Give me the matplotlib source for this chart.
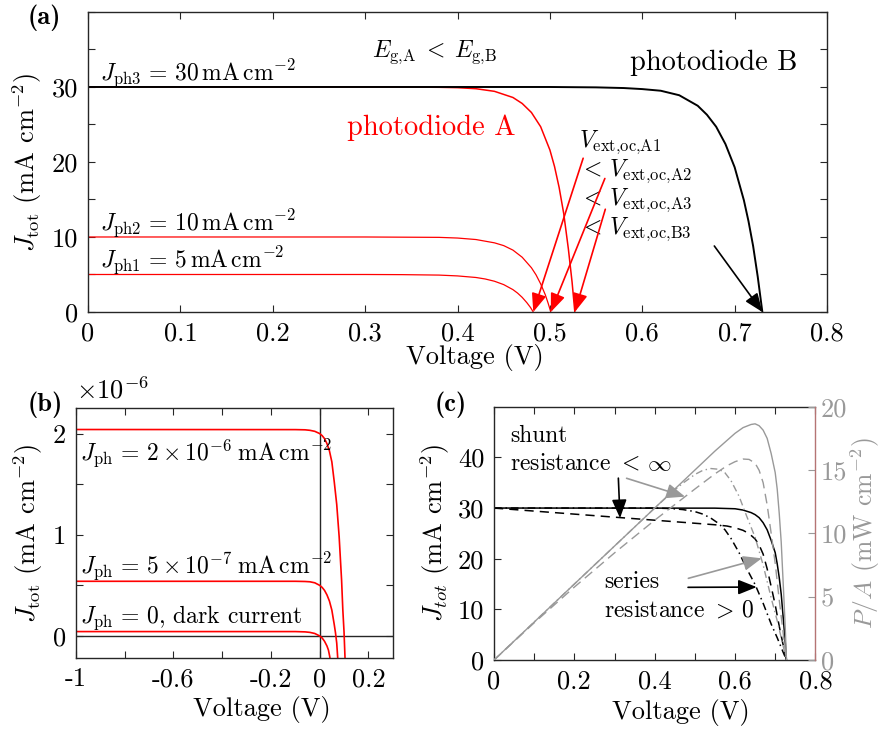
import matplotlib
matplotlib.use("Agg")
import matplotlib.pyplot as plt

plt.rcParams["font.family"] = "serif"
plt.rcParams["font.serif"] = ["cmr10"]
plt.rcParams["mathtext.fontset"] = "cm"
plt.rcParams["axes.unicode_minus"] = False
plt.rcParams["axes.formatter.use_mathtext"] = True

SPINE = "#262626"
RED = "#ff0000"
GRAY = "#999999"

# ---- (a) J-V curves of photodiode A (three photocurrents) and B ----
v_a1 = [0, 0.30, 0.34, 0.38, 0.40, 0.42, 0.43, 0.44, 0.45, 0.46, 0.465, 0.47, 0.475, 0.479, 0.482]
j_a1 = [5, 5, 4.98, 4.92, 4.81, 4.6, 4.4, 4.1, 3.65, 2.98, 2.52, 1.95, 1.25, 0.6, 0]
v_a2 = [0, 0.30, 0.38, 0.40, 0.42, 0.44, 0.45, 0.46, 0.47, 0.48, 0.485, 0.49, 0.495, 0.498, 0.501]
j_a2 = [10, 10, 9.95, 9.86, 9.66, 9.22, 8.85, 8.25, 7.3, 5.9, 4.95, 3.75, 2.3, 1.2, 0]
v_a3 = [0, 0.33, 0.38, 0.40, 0.42, 0.44, 0.46, 0.47, 0.48, 0.49, 0.50, 0.505, 0.51, 0.515,
        0.52, 0.524, 0.527]
j_a3 = [30, 30, 29.96, 29.91, 29.77, 29.42, 28.6, 27.8, 26.6, 24.7, 21.6, 19.4, 16.6, 13.1,
        8.4, 4.0, 0]
v_b3 = [0, 0.50, 0.55, 0.58, 0.60, 0.62, 0.64, 0.66, 0.67, 0.68, 0.69, 0.70, 0.71, 0.715,
        0.72, 0.725, 0.73]
j_b3 = [30, 30, 29.95, 29.86, 29.72, 29.5, 28.9, 27.5, 26.3, 24.7, 22.4, 19.3, 14.9, 12.1,
        8.8, 4.7, 0]
voc_a = [0.482, 0.501, 0.527]
voc_b = 0.73

# ---- (b) low-light curves, units of 1e-6 mA cm^-2 ----
v_hi = [-1, -0.1, -0.06, -0.04, -0.02, 0, 0.01, 0.02, 0.03, 0.04, 0.05, 0.06, 0.07, 0.08,
        0.09, 0.095, 0.1, 0.104]
j_hi = [2.04, 2.039, 2.037, 2.032, 2.022, 2.0, 1.98, 1.95, 1.9, 1.83, 1.72, 1.52, 1.30,
        0.98, 0.55, 0.26, 0.04, -0.215]
v_lo = [-1, -0.1, -0.06, -0.04, -0.02, 0, 0.01, 0.02, 0.03, 0.04, 0.05, 0.06, 0.065, 0.07,
        0.074]
j_lo = [0.54, 0.54, 0.538, 0.535, 0.525, 0.5, 0.48, 0.45, 0.405, 0.345, 0.255, 0.11, 0.03,
        -0.07, -0.215]
v_dark = [-1, -0.1, -0.06, -0.04, -0.02, 0, 0.01, 0.02, 0.03, 0.036, 0.041, 0.043]
j_dark = [0.043, 0.043, 0.04, 0.035, 0.024, 0, -0.02, -0.053, -0.1, -0.14, -0.2, -0.23]

# ---- (c) ideal / shunt / series resistance: current and power density ----
v_ideal = [0, 0.55, 0.60, 0.62, 0.64, 0.65, 0.66, 0.67, 0.68, 0.69, 0.70, 0.705, 0.71,
           0.715, 0.72, 0.725, 0.728]
j_ideal = [30, 29.98, 29.86, 29.6, 29.1, 28.7, 28.1, 27.1, 25.7, 23.6, 21.2, 19.0, 16.3,
           13.0, 8.3, 3.6, 0]
vp_ideal = [0, 0.55, 0.60, 0.62, 0.64, 0.65, 0.66, 0.67, 0.68, 0.69, 0.70, 0.705, 0.71,
            0.715, 0.72, 0.725, 0.728]
p_ideal = [0, 16.5, 17.9, 18.35, 18.6, 18.65, 18.5, 18.15, 17.5, 16.3, 14.8, 13.5, 11.6,
           9.3, 6.0, 2.6, 0]

v_shunt = [0, 0.1, 0.2, 0.3, 0.4, 0.5, 0.55, 0.58, 0.60, 0.62, 0.635, 0.65, 0.66, 0.67,
           0.68, 0.69, 0.70, 0.71, 0.72, 0.728]
j_shunt = [30, 29.4, 28.8, 28.2, 27.6, 27.0, 26.7, 26.45, 26.1, 25.6, 24.95, 23.9, 22.7,
           20.9, 18.0, 14.5, 10.9, 6.7, 2.9, 0]
vp_shunt = [0, 0.1, 0.2, 0.3, 0.4, 0.5, 0.55, 0.58, 0.60, 0.62, 0.635, 0.65, 0.66, 0.67,
            0.68, 0.69, 0.70, 0.71, 0.72, 0.728]
p_shunt = [0, 2.94, 5.76, 8.46, 11.04, 13.5, 14.7, 15.34, 15.66, 15.87, 15.84, 15.54, 14.98,
           14.0, 12.24, 10.0, 7.63, 4.76, 2.09, 0]

v_series = [0, 0.40, 0.44, 0.47, 0.50, 0.52, 0.54, 0.56, 0.575, 0.59, 0.61, 0.63, 0.65,
            0.67, 0.69, 0.705, 0.72, 0.728]
j_series = [30, 30, 29.9, 29.7, 29.3, 28.8, 28.0, 26.9, 25.7, 24.0, 21.2, 17.9, 14.9, 11.2,
            7.1, 4.4, 1.5, 0]
vp_series = [0, 0.40, 0.44, 0.47, 0.50, 0.52, 0.54, 0.56, 0.575, 0.59, 0.61, 0.63, 0.65,
             0.67, 0.69, 0.705, 0.72, 0.728]
p_series = [0, 12.0, 13.16, 13.96, 14.65, 14.98, 15.12, 15.06, 14.78, 14.16, 12.93, 11.28,
            9.69, 7.5, 4.9, 3.1, 1.08, 0]

FS = 19


def style_axes(ax):
    for s in ax.spines.values():
        s.set_color(SPINE)
        s.set_linewidth(1.0)
    ax.tick_params(which="both", direction="in", length=5, width=0.8,
                   top=True, right=True, labelsize=FS, color=SPINE, pad=7)


def arrow(ax, tip, tail, color, lw=1.2):
    ax.annotate("", xy=tip, xytext=tail,
                arrowprops=dict(arrowstyle="-|>,head_length=0.75,head_width=0.3",
                                color=color, lw=lw, shrinkA=0, shrinkB=0,
                                mutation_scale=15))


fig = plt.figure(figsize=(8.83, 7.31), dpi=100)

# (a)
ax = fig.add_axes([0.0997, 0.5732, 0.8369, 0.4104])
style_axes(ax)
ax.plot(v_a1, j_a1, color=RED, lw=0.9)
ax.plot(v_a2, j_a2, color=RED, lw=0.9)
ax.plot(v_a3, j_a3, color=RED, lw=1.1)
ax.plot(v_b3, j_b3, color="black", lw=1.4)
ax.set_xlim(0, 0.8)
ax.set_ylim(0, 40)
ax.set_xticks([0, 0.1, 0.2, 0.3, 0.4, 0.5, 0.6, 0.7, 0.8])
ax.set_xticklabels(["0", "0.1", "0.2", "0.3", "0.4", "0.5", "0.6", "0.7", "0.8"])
ax.set_yticks([0, 5, 10, 15, 20, 25, 30, 35, 40])
ax.set_yticklabels(["0", "", "10", "", "20", "", "30", "", ""])
ax.set_xlabel("Voltage (V)", fontsize=FS)
ax.xaxis.set_label_coords(0.524, -0.108)
ax.set_ylabel(r"$J_{\rm tot}$ (mA cm$^{-2}$)", fontsize=FS, labelpad=6)
tfs = 17
ax.text(0.013, 30.9, r"$J_{\rm ph3}\,=\,30\,{\rm mA\,cm^{-2}}$", fontsize=tfs, va="baseline")
ax.text(0.013, 10.9, r"$J_{\rm ph2}\,=\,10\,{\rm mA\,cm^{-2}}$", fontsize=tfs, va="baseline")
ax.text(0.013, 6.05, r"$J_{\rm ph1}\,=\,5\,{\rm mA\,cm^{-2}}$", fontsize=tfs, va="baseline")
ax.text(0.307, 34.0, r"$E_{\rm g{,}A}\;<\;E_{\rm g{,}B}$", fontsize=tfs, va="baseline")
ax.text(0.587, 32.3, "photodiode B", fontsize=20.5, va="baseline")
ax.text(0.280, 23.6, "photodiode A", fontsize=20.5, va="baseline", color=RED)
ax.text(0.532, 22.0, r"$V_{\rm ext{,}oc{,}A1}$", fontsize=tfs, va="baseline")
ax.text(0.532, 18.2, r"$<\,V_{\rm ext{,}oc{,}A2}$", fontsize=tfs, va="baseline")
ax.text(0.532, 14.3, r"$<\,V_{\rm ext{,}oc{,}A3}$", fontsize=tfs, va="baseline")
ax.text(0.532, 10.4, r"$<\,V_{\rm ext{,}oc{,}B3}$", fontsize=tfs, va="baseline")
arrow(ax, (voc_a[0], 0), (0.536, 20.5), RED)
arrow(ax, (voc_a[1], 0), (0.5595, 17.8), RED)
arrow(ax, (voc_a[2], 0), (0.560, 13.7), RED)
arrow(ax, (voc_b, 0), (0.678, 8.8), "black")
fig.text(28 / 883, 1 - 18 / 731, "(a)", fontsize=FS, fontfamily="cmb10", va="center")

# (b)
bx = fig.add_axes([0.0861, 0.1003, 0.3587, 0.3412])
style_axes(bx)
bx.axhline(0, color=SPINE, lw=1.0)
bx.axvline(0, color=SPINE, lw=1.0)
bx.plot(v_hi, j_hi, color=RED, lw=1.2)
bx.plot(v_lo, j_lo, color=RED, lw=1.2)
bx.plot(v_dark, j_dark, color=RED, lw=1.2)
bx.set_xlim(-1, 0.3)
bx.set_ylim(-0.215, 2.25)
bx.set_xticks([-1, -0.8, -0.6, -0.4, -0.2, 0, 0.2])
bx.set_xticklabels(["-1", "", "-0.6", "", "-0.2", "0", "0.2"])
bx.set_yticks([0, 0.5, 1, 1.5, 2])
bx.set_yticklabels(["0", "", "1", "", "2"])
bx.set_xlabel("Voltage (V)", fontsize=FS)
bx.xaxis.set_label_coords(0.587, -0.155)
bx.set_ylabel(r"$J_{\rm tot}$ (mA cm$^{-2}$)", fontsize=FS, labelpad=6)
bx.text(0.0, 1.02, r"$\times10^{-6}$", transform=bx.transAxes, fontsize=FS, va="bottom")
bx.text(-0.983, 1.74, r"$J_{\rm ph}\,=\,2\times10^{-6}\;{\rm mA\,cm^{-2}}$", fontsize=tfs,
        va="baseline")
bx.text(-0.983, 0.62, r"$J_{\rm ph}\,=\,5\times10^{-7}\;{\rm mA\,cm^{-2}}$", fontsize=tfs,
        va="baseline")
bx.text(-0.983, 0.125, r"$J_{\rm ph}\,=\,0$, dark current", fontsize=tfs, va="baseline")
fig.text(28 / 883, 1 - 405 / 731, "(b)", fontsize=FS, fontfamily="cmb10", va="center")

# (c)
cx = fig.add_axes([0.5595, 0.0971, 0.3639, 0.3465])
style_axes(cx)
cx.tick_params(right=False)
cx.spines["right"].set_visible(False)
cx.plot(v_ideal, j_ideal, color="black", lw=1.1)
cx.plot(v_shunt, j_shunt, color="black", lw=1.1, ls=(0, (6, 4)))
cx.plot(v_series, j_series, color="black", lw=1.1, ls=(0, (5, 2.5, 1, 2.5)))
cx.set_xlim(0, 0.8)
cx.set_ylim(0, 50)
cx.set_xticks([0, 0.1, 0.2, 0.3, 0.4, 0.5, 0.6, 0.7, 0.8])
cx.set_xticklabels(["0", "", "0.2", "", "0.4", "", "0.6", "", "0.8"])
cx.set_yticks([0, 10, 20, 30, 40])
cx.set_yticklabels(["0", "10", "20", "30", "40"])
cx.set_xlabel("Voltage (V)", fontsize=FS)
cx.xaxis.set_label_coords(0.58, -0.152)
cx.set_ylabel(r"$J_{tot}$ (mA cm$^{-2}$)", fontsize=FS, labelpad=4)

cx2 = cx.twinx()
cx2.set_ylim(0, 20)
for s in ["left", "top", "bottom"]:
    cx2.spines[s].set_visible(False)
cx2.spines["right"].set_color("#b57474")
cx2.spines["right"].set_linewidth(1.0)
cx2.plot(vp_ideal, p_ideal, color=GRAY, lw=1.0)
cx2.plot(vp_shunt, p_shunt, color=GRAY, lw=1.0, ls=(0, (7, 4)))
cx2.plot(vp_series, p_series, color=GRAY, lw=1.0, ls=(0, (5, 2.5, 1, 2.5)))
cx2.set_yticks([0, 5, 10, 15, 20])
cx2.set_yticklabels(["0", "5", "10", "15", "20"])
cx2.tick_params(direction="in", length=5, width=0.8, labelsize=FS, color=GRAY,
                labelcolor=GRAY, pad=4)
cx2.set_ylabel(r"$P/A$ (mW cm$^{-2}$)", fontsize=18.5, color=GRAY, labelpad=1)

cx.text(0.04, 43.1, "shunt", fontsize=tfs, va="baseline")
cx.text(0.04, 37.5, r"resistance $<\,\infty$", fontsize=tfs, va="baseline")
cx.text(0.275, 14.3, "series", fontsize=tfs, va="baseline")
cx.text(0.275, 8.55, r"resistance $>\,0$", fontsize=tfs, va="baseline")
arrow(cx, (0.3137, 28.0), (0.3095, 35.9), "black")
arrow(cx, (0.654, 14.4), (0.483, 14.35), "black")
arrow(cx2, (0.4756, 12.9), (0.330, 14.35), GRAY)
arrow(cx2, (0.6666, 8.03), (0.4838, 6.45), GRAY)
fig.text(435 / 883, 1 - 405 / 731, "(c)", fontsize=FS, fontfamily="cmb10", va="center")

fig.savefig("out.png", dpi=100)
